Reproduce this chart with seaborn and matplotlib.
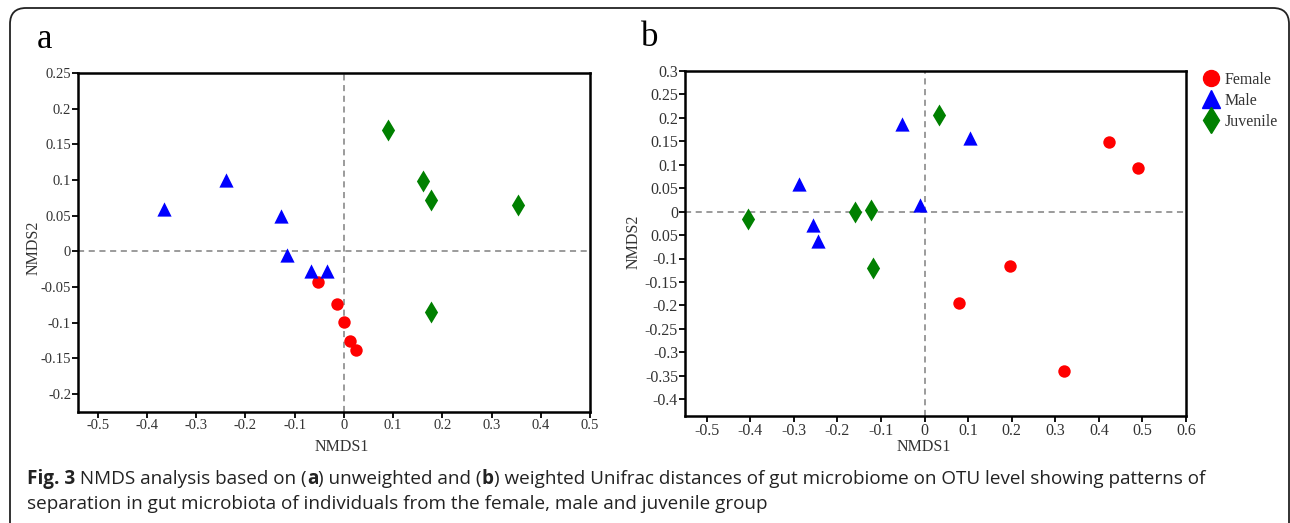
import matplotlib
matplotlib.use('Agg')
import matplotlib.pyplot as plt
import matplotlib.transforms as mtransforms
from matplotlib.patches import FancyBboxPatch
from matplotlib.lines import Line2D
import seaborn as sns
import pandas as pd

# ---------------- data ----------------
groups = ["Female", "Male", "Juvenile"]

# panel a (unweighted Unifrac)
a_female_x = [-0.053, -0.014, 0.001, 0.013, 0.025]
a_female_y = [-0.043, -0.073, -0.099, -0.125, -0.138]
a_male_x = [-0.365, -0.240, -0.127, -0.116, -0.066, -0.034]
a_male_y = [0.060, 0.100, 0.049, -0.005, -0.027, -0.027]
a_juv_x = [0.090, 0.160, 0.177, 0.354, 0.177]
a_juv_y = [0.170, 0.099, 0.072, 0.065, -0.085]

# panel b (weighted Unifrac)
b_female_x = [0.424, 0.490, 0.197, 0.080, 0.320]
b_female_y = [0.148, 0.093, -0.115, -0.195, -0.340]
b_male_x = [-0.052, 0.104, -0.289, -0.011, -0.256, -0.245]
b_male_y = [0.186, 0.158, 0.059, 0.014, -0.028, -0.062]
b_juv_x = [0.034, -0.406, -0.160, -0.123, -0.118]
b_juv_y = [0.206, -0.016, 0.000, 0.004, -0.120]

a_xticks = [-0.5, -0.4, -0.3, -0.2, -0.1, 0, 0.1, 0.2, 0.3, 0.4, 0.5]
a_xlabels = ["-0.5", "-0.4", "-0.3", "-0.2", "-0.1", "0", "0.1", "0.2", "0.3", "0.4", "0.5"]
a_yticks = [0.25, 0.2, 0.15, 0.1, 0.05, 0, -0.05, -0.1, -0.15, -0.2]
a_ylabels = ["0.25", "0.2", "0.15", "0.1", "0.05", "0", "-0.05", "-0.1", "-0.15", "-0.2"]
b_xticks = [-0.5, -0.4, -0.3, -0.2, -0.1, 0, 0.1, 0.2, 0.3, 0.4, 0.5, 0.6]
b_xlabels = ["-0.5", "-0.4", "-0.3", "-0.2", "-0.1", "0", "0.1", "0.2", "0.3", "0.4", "0.5", "0.6"]
b_yticks = [0.3, 0.25, 0.2, 0.15, 0.1, 0.05, 0, -0.05, -0.1, -0.15, -0.2, -0.25, -0.3, -0.35, -0.4]
b_ylabels = ["0.3", "0.25", "0.2", "0.15", "0.1", "0.05", "0", "0.05", "-0.1", "-0.15", "-0.2",
             "-0.25", "-0.3", "-0.35", "-0.4"]

caption_1 = [("Fig. 3", True), (" NMDS analysis based on (", False), ("a", True),
             (") unweighted and (", False), ("b", True),
             (") weighted Unifrac distances of gut microbiome on OTU level showing patterns of", False)]
caption_2 = "separation in gut microbiota of individuals from the female, male and juvenile group"

colors = {"Female": "#ff0000", "Male": "#0000ff", "Juvenile": "#008000"}
markers = {"Female": "o", "Male": "^", "Juvenile": "d"}
sizes = {"Female": 80, "Male": 105, "Juvenile": 125}


def frame(xs, ys):
    rows = []
    for g, (x, y) in zip(groups, zip(xs, ys)):
        for xi, yi in zip(x, y):
            rows.append({"NMDS1": xi, "NMDS2": yi, "Group": g})
    return pd.DataFrame(rows)


df_a = frame([a_female_x, a_male_x, a_juv_x], [a_female_y, a_male_y, a_juv_y])
df_b = frame([b_female_x, b_male_x, b_juv_x], [b_female_y, b_male_y, b_juv_y])

# ---------------- figure ----------------
sns.set_style("white")
plt.rcParams['font.family'] = ['Liberation Serif', 'DejaVu Serif']

W, H = 1290, 523
fig = plt.figure(figsize=(W / 100, H / 100), dpi=100)
fig.patch.set_facecolor("white")


def box(l, t, r, b):
    return [l / W, 1 - b / H, (r - l) / W, (b - t) / H]


ax_a = fig.add_axes(box(78, 73, 590, 412))
ax_b = fig.add_axes(box(685, 71, 1186, 416))

for ax, df, xl, yl, xt, xtl, yt, ytl, fs in [
        (ax_a, df_a, (-0.54, 0.5), (-0.225, 0.25), a_xticks, a_xlabels, a_yticks, a_ylabels, 10.5),
        (ax_b, df_b, (-0.55, 0.6), (-0.436, 0.3), b_xticks, b_xlabels, b_yticks, b_ylabels, 11.5)]:
    ax.axhline(0, color="#808080", lw=1.1, ls=(0, (4, 3)), zorder=1)
    ax.axvline(0, color="#808080", lw=1.1, ls=(0, (4, 3)), zorder=1)
    for g in groups:
        sns.scatterplot(data=df[df["Group"] == g], x="NMDS1", y="NMDS2", color=colors[g],
                        marker=markers[g], s=sizes[g], linewidth=0, ax=ax, legend=False, zorder=3)
    ax.set_xlim(*xl)
    ax.set_ylim(*yl)
    ax.set_xticks(xt)
    ax.set_xticklabels(xtl)
    ax.set_yticks(yt)
    ax.set_yticklabels(ytl)
    ax.tick_params(direction="out", length=4, width=1.3, color="black", labelsize=fs,
                   labelcolor="#333333", pad=1.0, bottom=True, left=True)
    for sp in ax.spines.values():
        sp.set_color("black")
        sp.set_linewidth(1.8)
    ax.set_xlabel("")
    ax.set_ylabel("")

# axis labels
lab_kw = dict(fontsize=11.5, color="#333333")
fig.text(342 / W, 1 - 447 / H, "NMDS1", ha="center", va="center", **lab_kw)
fig.text(924 / W, 1 - 447 / H, "NMDS1", ha="center", va="center", **lab_kw)
fig.text(34 / W, 1 - 248 / H, "NMDS2", ha="center", va="center", rotation=90, **lab_kw)
fig.text(634 / W, 1 - 242 / H, "NMDS2", ha="center", va="center", rotation=90, **lab_kw)

# panel letters
fig.text(37 / W, 1 - 40 / H, "a", fontsize=25, ha="left", va="center", color="black")
fig.text(641 / W, 1 - 38 / H, "b", fontsize=25, ha="left", va="center", color="black")

# legend
handles = [Line2D([], [], ls="none", marker=markers[g], color=colors[g],
                  markersize={"Female": 11.5, "Male": 12.5, "Juvenile": 13}[g]) for g in groups]
fig.legend(handles, groups, loc="upper left", bbox_to_anchor=(1201 / W, 1 - 72 / H),
           frameon=False, fontsize=11.5, handletextpad=0.25, labelspacing=0.3,
           handlelength=1.2, borderaxespad=0, borderpad=0, labelcolor="#333333")

# rounded border
border = FancyBboxPatch((10, -40), 1279, H - 8 + 40,
                        boxstyle="round,pad=0,rounding_size=16",
                        transform=mtransforms.IdentityTransform(),
                        facecolor="none", edgecolor="#222222", linewidth=1.3)
fig.add_artist(border)

# caption
cap_kw = dict(fontsize=13.6, color="#222222", family=["Open Sans", "DejaVu Sans"])
renderer = fig.canvas.get_renderer()
x = 27
y = 1 - 479 / H
for txt, bold in caption_1:
    t = fig.text(x / W, y, txt, ha="left", va="center",
                 fontweight="bold" if bold else "normal", **cap_kw)
    bb = t.get_window_extent(renderer=renderer)
    x = bb.x1
fig.text(27 / W, 1 - 504 / H, caption_2, ha="left", va="center", **cap_kw)

fig.savefig("out.png", dpi=100)
